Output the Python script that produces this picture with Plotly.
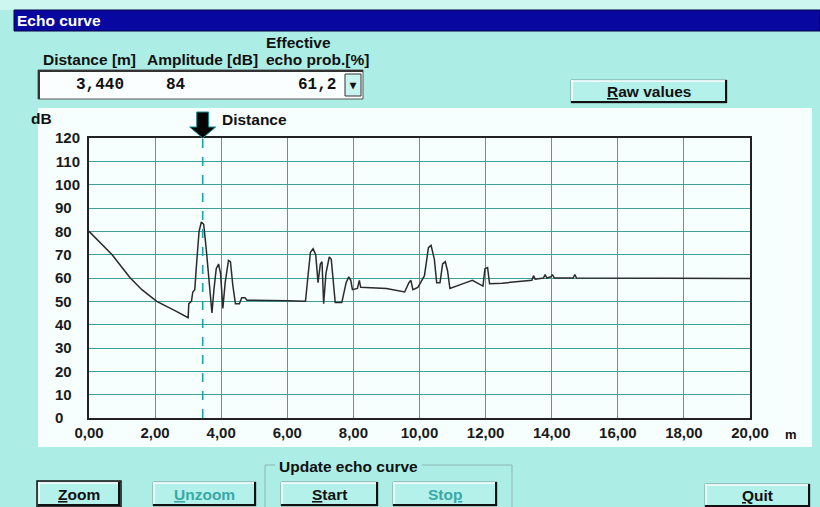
import plotly.graph_objects as go

# ---------------- data ----------------
distance_m = [0.00, 0.35, 0.70, 1.00, 1.25, 1.60, 2.05, 2.60, 3.00, 3.02, 3.10, 3.14, 3.20,
              3.26, 3.33, 3.40, 3.47, 3.55, 3.65, 3.72, 3.78, 3.85, 3.92, 3.98, 4.05, 4.12,
              4.22, 4.28, 4.35, 4.43, 4.55, 4.62, 4.72, 4.78, 6.00, 6.55, 6.62, 6.70, 6.78,
              6.86, 6.93, 7.00, 7.05, 7.10, 7.17, 7.27, 7.33, 7.40, 7.45, 7.65, 7.78, 7.86,
              7.92, 7.97, 8.12, 8.18, 8.22, 9.00, 9.55, 9.68, 9.74, 9.80, 9.95, 10.15, 10.27,
              10.35, 10.45, 10.52, 10.62, 10.70, 10.78, 10.85, 10.92, 11.30, 11.60, 11.92,
              11.98, 12.06, 12.12, 12.50, 13.20, 13.40, 13.45, 13.50, 13.75, 13.80, 13.85,
              13.98, 14.02, 14.08, 14.65, 14.70, 14.75, 20.00]
amplitude_db = [80, 75, 70, 64.5, 60, 55, 50, 46, 43, 49, 50, 54, 55,
                67, 80, 84, 83, 72, 55, 45, 55, 64, 66, 62, 47, 58,
                67.5, 67, 57, 49, 49, 51.5, 51.5, 50.5, 50.3, 50, 60, 71, 72.5,
                70, 58, 66, 67, 49, 62, 69, 68, 55, 49.5, 49.5, 58, 60.5,
                59, 55, 55.5, 59, 56, 55.5, 54, 58, 59, 55, 56, 61, 73,
                74, 68, 58, 58, 66, 67, 63, 55.5, 57.5, 59, 56.5,
                64, 64.5, 57.5, 57.8, 58.5, 59, 61, 59.5, 60, 61.5, 60,
                60.5, 61.5, 60, 60, 61.5, 60, 59.8]

x_tick_values = [0, 2, 4, 6, 8, 10, 12, 14, 16, 18, 20]
x_tick_labels = ["0,00", "2,00", "4,00", "6,00", "8,00", "10,00", "12,00",
                 "14,00", "16,00", "18,00", "20,00"]
y_tick_values = [0, 10, 20, 30, 40, 50, 60, 70, 80, 90, 100, 110, 120]
y_tick_labels = ["0\u2007\u2007", "10\u2007", "20\u2007", "30\u2007", "40\u2007", "50\u2007",
                 "60\u2007", "70\u2007", "80\u2007", "90\u2007", "100", "110", "120"]

marker_distance = 3.44   # selected echo distance [m]
field_labels = ["Distance [m]", "Amplitude [dB]", "Effective<br>echo prob.[%]"]
field_values = ["3,440", "84", "61,2"]

# ---------------- layout helpers ----------------
W, H = 820, 507
BG = "#acede5"
PANEL = "#f6fefe"
FONT = "Liberation Sans"
FS = 15.5


def X(p):
    return p / W


def Y(p):
    return 1 - p / H


shapes = []
annotations = []


def rect(x0, y0, x1, y1, fill, line="rgba(0,0,0,0)", lw=1):
    shapes.append(dict(type="rect", xref="paper", yref="paper", x0=X(x0), x1=X(x1),
                       y0=Y(y1), y1=Y(y0), fillcolor=fill, line=dict(color=line, width=lw),
                       layer="below"))


def seg(x0, y0, x1, y1, color, lw=1):
    shapes.append(dict(type="line", xref="paper", yref="paper", x0=X(x0), x1=X(x1),
                       y0=Y(y0), y1=Y(y1), line=dict(color=color, width=lw), layer="below"))


def text(x, y, s, size=FS, color="#111", anchor="left", family=FONT, weight="bold"):
    annotations.append(dict(x=X(x), y=Y(y), xref="paper", yref="paper", text=s,
                            showarrow=False, xanchor=anchor, yanchor="middle", align="left",
                            font=dict(family=family, size=size, color=color, weight=weight)))


def button(x0, y0, x1, y1, label, color="#111", default=False):
    rect(x0, y0, x1, y1, "#b4f1ea", "#7a9f9b", 1)
    seg(x0, y0 + 1, x1, y0 + 1, "#ffffff", 1.5)
    seg(x0 + 1, y0, x0 + 1, y1, "#ffffff", 1.5)
    seg(x0, y1 - 1, x1, y1 - 1, "#111111", 2)
    seg(x1 - 1, y0, x1 - 1, y1, "#111111", 2)
    if default:
        rect(x0 - 1, y0 - 1, x1 + 1, y1 + 1, "rgba(0,0,0,0)", "#111111", 1.5)
    text((x0 + x1) / 2, (y0 + y1) / 2, label, FS, color, "center")


# window background strips
rect(0, 0, W, 10, "#cdf6f1")
# title bar
rect(14, 10, W, 31, "#0808a0", "#000044", 1)
text(15, 20.5, "Echo curve", FS, "#ffffff")

# top fields
text(41, 59, field_labels[0])
text(145, 59, field_labels[1])
prob_lines = field_labels[2].split("<br>")
text(264, 43, prob_lines[0])
text(264, 59, prob_lines[1])
rect(38, 70, 363, 99, "#fbfefe", "#555555", 1)
seg(38, 71, 363, 71, "#333333", 2)
seg(39, 70, 39, 99, "#333333", 2)
text(74, 85, field_values[0], 16, "#111", "left", "Liberation Mono")
text(164, 85, field_values[1], 16, "#111", "left", "Liberation Mono")
text(296, 85, field_values[2], 16, "#111", "left", "Liberation Mono")
rect(345, 74, 361, 96, "#c9f3ee", "#333333", 1)
text(353, 85, "▾", 12, "#111", "center")

button(571, 80, 727, 103, "<u>R</u>aw values")

# chart panel
rect(38, 108, 812, 447, PANEL)

# bottom controls
button(38, 482, 120, 506, "<u>Z</u>oom", default=True)
button(153, 482, 256, 506, "<u>U</u>nzoom", "#3aa8a8")
seg(265, 465, 275, 465, "#8fb5b2", 1)
seg(422, 465, 512, 465, "#8fb5b2", 1)
seg(265, 465, 265, 507, "#8fb5b2", 1)
seg(512, 465, 512, 507, "#8fb5b2", 1)
text(277, 466, "Update echo curve")
button(281, 482, 378, 506, "<u>S</u>tart")
button(393, 482, 497, 506, "Sto<u>p</u>", "#3aa8a8")
button(705, 484, 810, 507, "<u>Q</u>uit")

# axis labels
text(29, 119, "dB")
text(783, 434, "m", 13)

# selected-distance marker: dashed line + arrow
shapes.append(dict(type="line", xref="x", yref="y", x0=marker_distance, x1=marker_distance,
                   y0=0, y1=120, line=dict(color="#1aa6a6", width=1.6, dash="dash")))
shapes.append(dict(type="path", xref="x", yref="paper", xsizemode="pixel", ysizemode="pixel",
                   xanchor=marker_distance, yanchor=Y(138),
                   path="M 0 0 L -13 11 L -6 11 L -6 26 L 6 26 L 6 11 L 13 11 Z",
                   fillcolor="#050505", line=dict(color="#1a8f8f", width=1)))
annotations.append(dict(x=marker_distance, y=120, xref="x", yref="y", text="Distance",
                        showarrow=False, xanchor="left", yanchor="middle", xshift=17,
                        yshift=19, font=dict(family=FONT, size=FS, color="#111", weight="bold")))

fig = go.Figure()
fig.add_trace(go.Scatter(x=distance_m, y=amplitude_db, mode="lines",
                         line=dict(color="#2b2b2b", width=1.5), hoverinfo="x+y",
                         showlegend=False))

tick_font = dict(family=FONT, size=15, color="#1a1a1a", weight="bold")
fig.update_layout(
    width=W, height=H,
    margin=dict(l=0, r=0, t=0, b=0, pad=0, autoexpand=False),
    paper_bgcolor=BG, plot_bgcolor=PANEL,
    shapes=shapes, annotations=annotations,
    showlegend=False,
    xaxis=dict(domain=[X(89), X(750)], range=[0, 20], tickvals=x_tick_values,
               ticktext=x_tick_labels, showgrid=True, gridcolor="#22b3ab", gridwidth=1,
               zeroline=False, showline=True, linecolor="#222222", linewidth=2, mirror=True,
               ticks="", automargin=False, tickfont=tick_font, fixedrange=True),
    yaxis=dict(domain=[Y(418), Y(138)], range=[0, 120], tickvals=y_tick_values,
               ticktext=y_tick_labels, showgrid=True, gridcolor="#3f9f9b", gridwidth=1,
               zeroline=False, showline=True, linecolor="#222222", linewidth=2, mirror=True,
               ticks="", ticklabelstandoff=4, automargin=False, tickfont=tick_font,
               fixedrange=True),
)

fig.write_html("out.html", config={"displayModeBar": False},
               post_script="document.body.style.margin='0';"
                           "document.body.style.background='" + BG + "';")
